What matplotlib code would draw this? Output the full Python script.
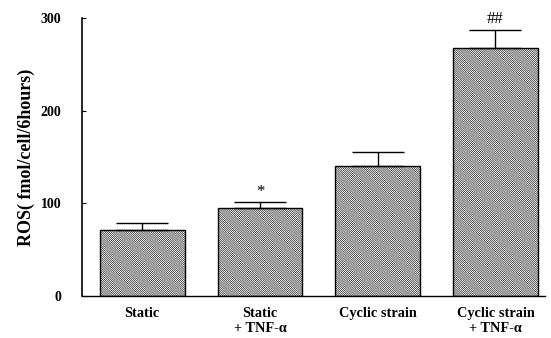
import numpy as np
import matplotlib.pyplot as plt

plt.rcParams['font.family'] = ['Liberation Serif', 'DejaVu Serif']
plt.rcParams['hatch.linewidth'] = 0.4

# data
groups = ['Static', 'Static\n+ TNF-α', 'Cyclic strain', 'Cyclic strain\n+ TNF-α']
ros = [71, 95, 140, 268]
sem = [8, 6, 15, 19]
marks = ['', '*', '', '##']

fig = plt.figure(figsize=(5.51, 3.38), dpi=100)
ax = fig.add_axes([0.149, 0.124, 0.84, 0.823])

x = np.arange(len(groups))
ax.bar(x, ros, width=0.72, color='white', edgecolor='black', linewidth=1.0,
       hatch='\\' * 16)
ax.errorbar(x, ros, yerr=[np.zeros(len(sem)), sem], fmt='none', ecolor='black',
            elinewidth=1.0, capsize=19, capthick=1.0)

for xi, v, e, m in zip(x, ros, sem, marks):
    if m:
        ax.text(xi, v + e + 3, m, ha='center', va='bottom', fontsize=12)

ax.set_xlim(-0.51, 3.42)
ax.set_ylim(0, 300)
ax.set_yticks([0, 100, 200, 300])
ax.set_xticks(x)
ax.set_xticklabels(groups, fontsize=10.3, fontweight='bold', linespacing=1.15)
ax.tick_params(axis='x', length=0, pad=8)
ax.tick_params(axis='y', direction='in', length=3, labelsize=10, pad=15)
for lab in ax.get_yticklabels():
    lab.set_fontweight('bold')
ax.set_ylabel('ROS( fmol/cell/6hours)', fontsize=13, fontweight='bold', labelpad=4)

ax.spines['top'].set_visible(False)
ax.spines['right'].set_visible(False)
ax.spines['left'].set_linewidth(1.2)
ax.spines['bottom'].set_linewidth(1.0)

fig.savefig('out.png', dpi=100)
